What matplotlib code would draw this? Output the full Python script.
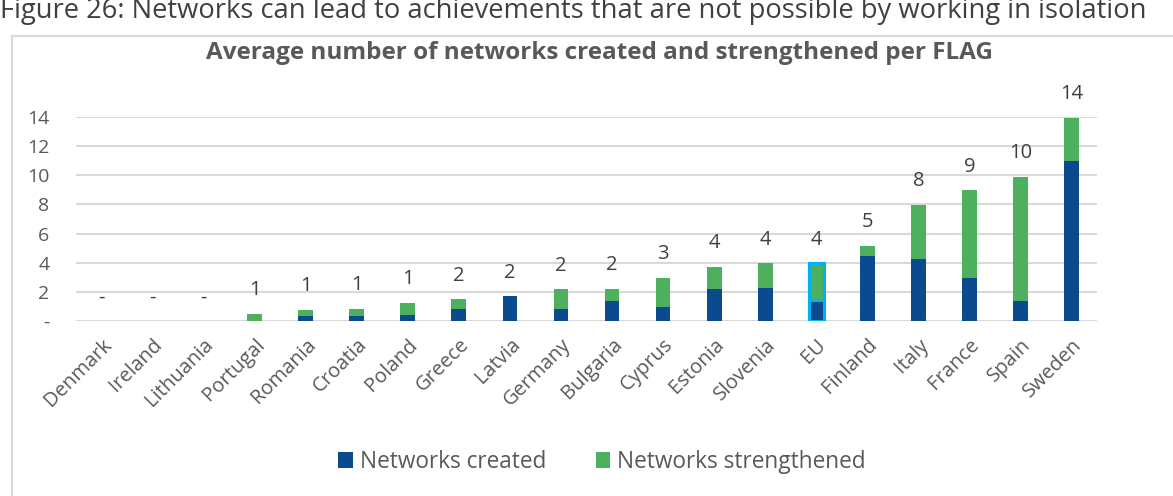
import math
import matplotlib
matplotlib.use("Agg")
import matplotlib.pyplot as plt
from matplotlib.patches import Rectangle

plt.rcParams['font.family'] = ['Open Sans', 'DejaVu Sans']

countries = ["Denmark", "Ireland", "Lithuania", "Portugal", "Romania", "Croatia",
             "Poland", "Greece", "Latvia", "Germany", "Bulgaria", "Cyprus",
             "Estonia", "Slovenia", "EU", "Finland", "Italy", "France", "Spain",
             "Sweden"]
created = [0, 0, 0, 0, 0.34, 0.34, 0.43, 0.85, 1.70, 0.82, 1.37, 0.96,
           2.20, 2.29, 1.42, 4.46, 4.26, 2.95, 1.40, 10.98]
strengthened = [0, 0, 0, 0.50, 0.41, 0.51, 0.81, 0.65, 0, 1.35, 0.85, 1.99,
                1.51, 1.67, 2.54, 0.69, 3.70, 6.02, 8.49, 2.98]
yticks = [0, 2, 4, 6, 8, 10, 12, 14]
ytick_labels = ["-", "2", "4", "6", "8", "10", "12", "14"]

BLUE = "#0b4a8c"
GREEN = "#4cb05e"
TEXT = "#595959"
GRID = "#d9d9d9"

W, H = 1173, 496
fig = plt.figure(figsize=(W / 100, H / 100), dpi=100)

# chart frame
fig.patches.append(Rectangle((12 / W, -0.05), 1.1, (H - 36) / H + 0.05,
                             transform=fig.transFigure, fill=False,
                             edgecolor=GRID, linewidth=1.5, zorder=0))

fig.text(0.0, 1 - 18 / H,
         "Figure 26: Networks can lead to achievements that are not possible by working in isolation",
         ha="left", va="baseline", fontsize=19.7, color="#404040")

fig.text(600 / W, 1 - 53 / H,
         "Average number of networks created and strengthened per FLAG",
         ha="center", va="center", fontsize=17.5, fontweight="bold", color=TEXT)

left, right, top, bottom = 76, 1097, 117, 321
ax = fig.add_axes([left / W, 1 - bottom / H, (right - left) / W, (bottom - top) / H])

x = list(range(len(countries)))
width = 0.29
b1 = ax.bar(x, created, width, color=BLUE, label="Networks created", zorder=3)
b2 = ax.bar(x, strengthened, width, bottom=created, color=GREEN,
            label="Networks strengthened", zorder=3)

# highlight the EU average
i_eu = countries.index("EU")
for bars in (b1, b2):
    bars[i_eu].set_edgecolor("#00b0f0")
    bars[i_eu].set_linewidth(2.2)

for i, (c, s) in enumerate(zip(created, strengthened)):
    total = c + s
    lab = "-" if total == 0 else str(int(math.floor(total + 0.5)))
    ax.annotate(lab, (i, total), xytext=(0, 17), textcoords="offset points",
                ha="center", va="center", fontsize=14.5, color="#404040",
                annotation_clip=False)

ax.set_xlim(-0.5, len(countries) - 0.5)
ax.set_ylim(0, 14)
ax.set_yticks(yticks)
ax.set_yticklabels(ytick_labels, fontsize=14, color=TEXT)
ax.set_xticks(x)
ax.set_xticklabels(countries, rotation=45, ha="right", rotation_mode="anchor",
                   fontsize=14.5, color=TEXT)
ax.tick_params(length=0)
ax.tick_params(axis="y", pad=19)
ax.tick_params(axis="x", pad=10)
ax.grid(axis="y", color=GRID, linewidth=1.5, zorder=0)
for sp in ax.spines.values():
    sp.set_visible(False)
ax.set_axisbelow(True)

fig.legend(handles=[b1, b2], loc="center", bbox_to_anchor=(602 / W, 1 - 462 / H),
           ncol=2, frameon=False, fontsize=16.3, handlelength=0.65, handleheight=0.65,
           handletextpad=0.3, columnspacing=2.2, labelcolor=TEXT)

fig.savefig("out.png", dpi=100)
